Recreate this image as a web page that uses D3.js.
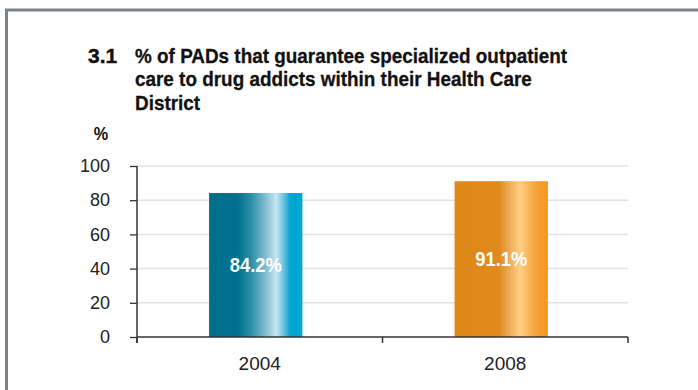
<!DOCTYPE html>
<html><head><meta charset="utf-8">
<script src="https://cdn.jsdelivr.net/npm/d3@7"></script>
<style>
html,body{margin:0;padding:0;background:#fff;}
svg{display:block;}
</style></head>
<body><svg id="c" width="698" height="390"></svg>
<script>
const categories = ["2004", "2008"];
const values = [84.2, 91.1];
const valueLabels = ["84.2%", "91.1%"];
const yTicks = [0, 20, 40, 60, 80, 100];
const titleNumber = "3.1";
const titleLines = ["% of PADs that guarantee specialized outpatient", "care to drug addicts within their Health Care", "District"];
const yUnit = "%";

const svg = d3.select("#c");
const W = 698, H = 390;
const m = {left: 137, right: 70, top: 166, bottom: 53};

// frame
svg.append("path").attr("d", `M6.5,${H} V10 H${W}`).attr("fill","none")
  .attr("stroke","#7b8387").attr("stroke-width",3);

const sans = "'Liberation Sans',Arial,Helvetica,sans-serif";
const SX = 0.9;
svg.append("text").attr("x",88).attr("y",63)
  .attr("font-family", sans).attr("font-weight","bold").attr("font-size",21)
  .attr("fill","#111").attr("stroke","#111").attr("stroke-width",0.4).text(titleNumber);
const tg = svg.append("g").attr("transform",`translate(135,0) scale(${SX},1)`)
  .attr("font-family", sans).attr("font-weight","bold")
  .attr("font-size", 21).attr("fill","#111").attr("stroke","#111").attr("stroke-width",0.3);
titleLines.forEach((t,i)=> tg.append("text").attr("x",0).attr("y",63 + i*23.5).text(t));

const x = d3.scaleBand().domain(categories).range([m.left, W - m.right]);
const y = d3.scaleLinear().domain([0,100]).range([H - m.bottom, m.top]);

// gridlines
svg.append("g").selectAll("line").data(yTicks.filter(d=>d>0)).join("line")
  .attr("x1", m.left).attr("x2", W - m.right)
  .attr("y1", d=>y(d)).attr("y2", d=>y(d))
  .attr("stroke","#e3e3e3").attr("stroke-width",1.5);

// gradients
const defs = svg.append("defs");
const grads = [
  {id:"g0", stops:[[0,"#006d8c"],[0.31,"#00728f"],[0.45,"#2a8fa9"],[0.6,"#7fbcd0"],[0.72,"#c6e5f1"],[0.8,"#6cc0de"],[0.87,"#00a7d4"],[1,"#00a5d2"]]},
  {id:"g1", stops:[[0,"#df881a"],[0.48,"#e08a1c"],[0.58,"#ecaa55"],[0.7,"#fdd07f"],[0.8,"#f8b45a"],[0.9,"#f59e30"],[1,"#f5961e"]]}
];
grads.forEach(g=>{
  const lg = defs.append("linearGradient").attr("id",g.id).attr("x1","0").attr("x2","1").attr("y1","0").attr("y2","0");
  g.stops.forEach(s=>lg.append("stop").attr("offset",s[0]).attr("stop-color",s[1]));
});

const barW = x.bandwidth()*0.38;
const bx = d => x(d) + (x.bandwidth()-barW)/2 - 4;
svg.append("g").selectAll("rect").data(categories).join("rect")
  .attr("x", d=>bx(d)).attr("width", barW)
  .attr("y", (d,i)=>y(values[i])).attr("height",(d,i)=>y(0)-y(values[i]))
  .attr("fill",(d,i)=>`url(#g${i})`);

svg.append("g").selectAll("text").data(categories).join("text")
  .attr("transform",(d,i)=>`translate(${bx(d)+barW/2},${(y(values[i])+y(0))/2}) scale(0.92,1)`)
  .attr("dy","0.35em").attr("text-anchor","middle")
  .attr("font-family", sans).attr("font-weight","bold").attr("font-size",20)
  .attr("fill","#fff").text((d,i)=>valueLabels[i]);

// y axis
const ya = svg.append("g").attr("transform",`translate(${m.left},0)`)
  .call(d3.axisLeft(y).tickValues(yTicks).tickSize(7).tickPadding(20));
ya.select(".domain").remove();
ya.selectAll(".tick line").attr("stroke","#333").attr("stroke-width",1.3);
ya.selectAll(".tick text").attr("font-family",sans)
  .attr("font-size",18).attr("fill","#222");
svg.append("line").attr("x1",m.left).attr("x2",m.left).attr("y1",y(100)).attr("y2",y(0)+6)
  .attr("stroke","#333").attr("stroke-width",1.5);

// x axis
const xa = svg.append("g").attr("transform",`translate(0,${y(0)})`)
  .call(d3.axisBottom(x).tickSize(0).tickPadding(20));
xa.select(".domain").remove();
xa.selectAll(".tick text").attr("font-family",sans)
  .attr("font-size",19).attr("fill","#222");
svg.append("line").attr("x1",m.left).attr("x2",W-m.right).attr("y1",y(0)).attr("y2",y(0))
  .attr("stroke","#333").attr("stroke-width",1.5);
const bounds = [m.left, ...categories.map(c=>x(c)+x.bandwidth())];
svg.append("g").selectAll("line").data(bounds).join("line")
  .attr("x1",d=>d).attr("x2",d=>d).attr("y1",y(0)).attr("y2",y(0)+6)
  .attr("stroke","#333").attr("stroke-width",1.5);

svg.append("text").attr("transform","translate(101,140) scale(0.9,1)").attr("text-anchor","middle")
  .attr("font-family",sans).attr("font-weight","bold").attr("font-size",18)
  .attr("fill","#111").text(yUnit);
</script></body></html>
